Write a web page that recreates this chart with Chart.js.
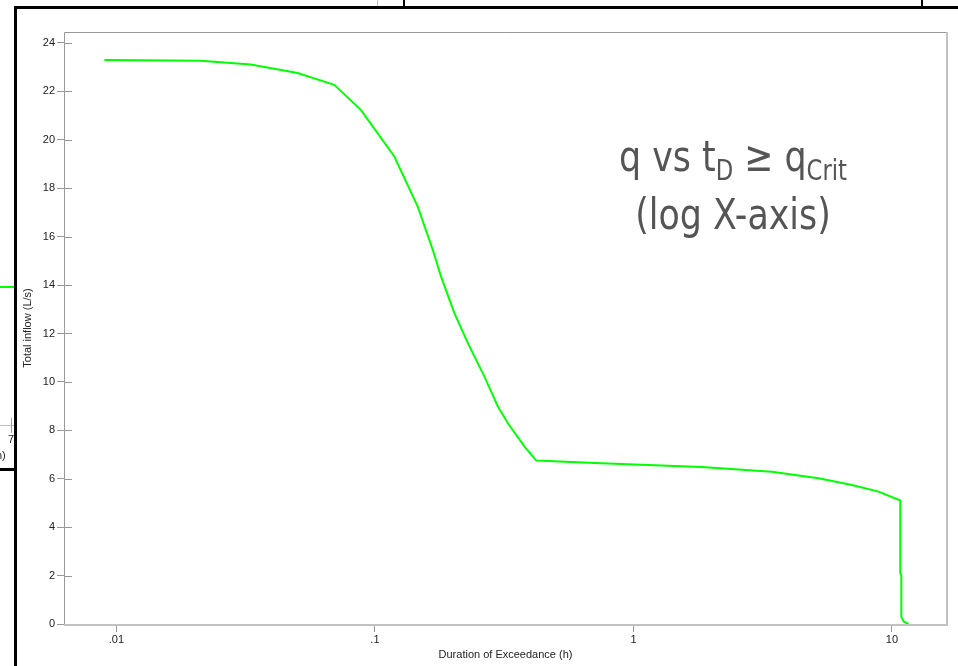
<!DOCTYPE html>
<html lang="en">
<head>
<meta charset="UTF-8">
<meta name="viewport" content="width=device-width, initial-scale=1.0">
<title>Total inflow vs duration of exceedance</title>
<style>
    html, body { margin: 0; padding: 0; background: #fff; }
    body {
        width: 958px;
        height: 666px;
        position: relative;
        overflow: hidden;
        font-family: "Liberation Sans", Arial, sans-serif;
    }
    #chart { position: absolute; left: 0; top: 0; }
    .bar { position: absolute; background: #000; }
    .bit { position: absolute; }
    .frag { position: absolute; font-size: 11px; color: #222; }
    .note {
        position: absolute;
        left: 590px;
        width: 286px;
        top: 127px;
        text-align: center;
        color: #555;
        font-family: "Liberation Sans Narrow", "DejaVu Sans Condensed", sans-serif;
        font-size: 43px;
        line-height: 58px;
        transform: scaleX(0.9);
        transform-origin: 50% 0;
    }
    .note sub { font-size: 28px; vertical-align: -9px; line-height: 0; }
</style>
</head>
<body>
    <canvas id="chart" width="958" height="666"></canvas>

    <!-- bits of the neighbouring windows -->
    <div class="bar" style="left:14px; top:6px; width:944px; height:3px;"></div>
    <div class="bar" style="left:14px; top:6px; width:3px; height:660px;"></div>
    <div class="bit" style="left:377px; top:0; width:1px; height:6px; background:#bbb;"></div>
    <div class="bit" style="left:403px; top:0; width:2px; height:6px; background:#000;"></div>
    <div class="bit" style="left:921px; top:0; width:2px; height:6px; background:#000;"></div>
    <div class="bit" style="left:0; top:286px; width:14px; height:2px; background:#00ff00;"></div>
    <div class="bit" style="left:0; top:425px; width:14px; height:1px; background:#bbb;"></div>
    <div class="bit" style="left:11px; top:418px; width:1px; height:15px; background:#999;"></div>
    <div class="frag" style="left:8px; top:433px;">7</div>
    <div class="frag" style="left:-4px; top:449px;">h)</div>
    <div class="bar" style="left:0; top:468px; width:14px; height:3px;"></div>

    <div class="note">q vs t<sub>D</sub> ≥ q<sub>Crit</sub><br>(log X-axis)</div>

    <script src="https://cdn.jsdelivr.net/npm/chart.js"></script>
    <script>
        // duration of exceedance (h) and total inflow (L/s)
        const durations = [0.00899, 0.0212, 0.0331, 0.0502, 0.0696, 0.0882, 0.1188, 0.1464, 0.1674, 0.1802,
                           0.2029, 0.2288, 0.2652, 0.2990, 0.3268, 0.3791, 0.4207, 0.7516, 1.835, 3.427,
                           5.199, 7.00, 8.88, 10.77, 10.77, 10.87, 10.87, 11.10, 11.61];
        const inflows = [23.30, 23.27, 23.11, 22.76, 22.27, 21.24, 19.31, 17.24, 15.45, 14.35,
                         12.84, 11.60, 10.22, 8.98, 8.29, 7.33, 6.75, 6.64, 6.49, 6.29,
                         6.02, 5.74, 5.47, 5.10, 2.10, 2.02, 0.30, 0.10, 0.0];

        const xTickValues = [0.01, 0.1, 1, 10];
        const xTickLabels = ['.01', '.1', '1', '10'];
        const yTickValues = [0, 2, 4, 6, 8, 10, 12, 14, 16, 18, 20, 22, 24];

        const points = durations.map((d, i) => ({ x: d, y: inflows[i] }));

        Chart.defaults.font.family = '"Liberation Sans", Arial, sans-serif';
        Chart.defaults.font.size = 11;
        Chart.defaults.color = '#222';

        // plot frame + the inner half of the y tick marks
        const framePlugin = {
            id: 'frame',
            beforeDatasetsDraw(chart) {
                const { ctx, chartArea: a } = chart;
                const y = chart.scales.y;
                ctx.save();
                ctx.lineWidth = 1;
                ctx.strokeStyle = '#999';
                ctx.beginPath();
                ctx.moveTo(a.left + 0.5, a.bottom);
                ctx.lineTo(a.left + 0.5, a.top + 0.5);
                ctx.lineTo(a.right, a.top + 0.5);
                yTickValues.forEach(v => {
                    const p = Math.round(y.getPixelForValue(v)) + 0.5;
                    ctx.moveTo(a.left, p);
                    ctx.lineTo(a.left + 8, p);
                });
                ctx.stroke();
                ctx.lineWidth = 2;
                ctx.strokeStyle = '#c2c2c2';
                ctx.beginPath();
                ctx.moveTo(a.right, a.top);
                ctx.lineTo(a.right, a.bottom + 1);
                ctx.lineTo(a.left, a.bottom + 1);
                ctx.stroke();
                ctx.restore();
            }
        };

        new Chart(document.getElementById('chart'), {
            type: 'line',
            data: {
                datasets: [{
                    label: 'Total inflow',
                    data: points,
                    borderColor: '#00ff00',
                    borderWidth: 2,
                    pointRadius: 0,
                    tension: 0,
                    fill: false
                }]
            },
            options: {
                responsive: false,
                animation: false,
                layout: { padding: { top: 32, right: 11, bottom: 0, left: 0 } },
                plugins: {
                    legend: { display: false },
                    tooltip: { enabled: false }
                },
                scales: {
                    x: {
                        type: 'logarithmic',
                        min: 0.006267,
                        max: 16.33,
                        afterFit(scale) { scale.height = 42; },
                        afterBuildTicks(scale) {
                            scale.ticks = xTickValues.map(v => ({ value: v }));
                        },
                        ticks: {
                            padding: 1,
                            maxRotation: 0,
                            autoSkip: false,
                            callback: (value, index) => xTickLabels[index]
                        },
                        grid: { drawOnChartArea: false, tickLength: 8, color: '#999' },
                        border: { display: false },
                        title: {
                            display: true,
                            text: 'Duration of Exceedance (h)',
                            padding: { top: 0, bottom: 4 }
                        }
                    },
                    y: {
                        min: 0,
                        max: 24.454,
                        afterFit(scale) { scale.width = 64; },
                        afterBuildTicks(scale) {
                            scale.ticks = yTickValues.map(v => ({ value: v }));
                        },
                        ticks: { padding: 2 },
                        grid: { drawOnChartArea: false, tickLength: 7, color: '#999' },
                        border: { display: false },
                        title: {
                            display: true,
                            text: 'Total inflow (L/s)',
                            padding: { top: 21, bottom: 0 }
                        }
                    }
                }
            },
            plugins: [framePlugin]
        });
    </script>
</body>
</html>
